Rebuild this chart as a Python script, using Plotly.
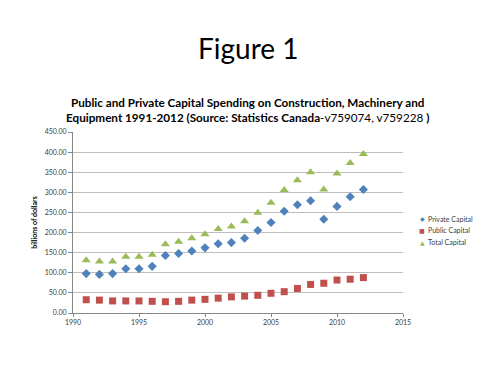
import plotly.graph_objects as go

years = list(range(1991, 2013))
private_capital = [98, 96, 98, 110, 110, 116, 143, 148, 154, 162, 172, 175, 186, 205,
                   225, 253, 269, 279, 233, 265, 289, 307]
public_capital = [33, 32, 30, 30, 30, 29, 28, 29, 32, 34, 37, 40, 42, 44,
                  49, 53, 61, 71, 74, 82, 84, 88]
total_capital = [131, 128, 128, 140, 140, 145, 171, 177, 186, 196, 209, 215, 228, 249,
                 274, 306, 330, 350, 307, 347, 373, 395]

series_names = ["Private Capital", "Public Capital", "Total Capital"]
series_colors = ["#4F81BD", "#C0504D", "#9BBB59"]
series_symbols = ["diamond", "square", "triangle-up"]
legend_glyphs = ["◆", "■", "▲"]

FONT = "Lato"

fig = go.Figure()
for name, vals, col, sym in zip(series_names, [private_capital, public_capital, total_capital],
                                series_colors, series_symbols):
    fig.add_trace(go.Scatter(x=years, y=vals, mode="markers", name=name, showlegend=False,
                             marker=dict(symbol=sym, size=8 if sym == "triangle-up" else 7,
                                         color=col)))

annotations = [
    dict(text="Figure 1", xref="paper", yref="paper", x=0.53, y=1.462,
         xanchor="center", yanchor="middle", showarrow=False,
         font=dict(family=FONT, size=28, color="#000000")),
    dict(text="<b>Public and Private Capital Spending on Construction, Machinery and</b><br>"
              "<b>Equipment 1991-2012 (Source: Statistics Canada</b>-v759074, v759228 <b>)</b>",
         xref="paper", yref="paper", x=0.53, y=1.125,
         xanchor="center", yanchor="middle", showarrow=False, align="center",
         font=dict(family=FONT, size=11.7, color="#000000")),
]
# legend built as text
legend_y0 = (313 - 218.7) / 181
for i, (name, col, g) in enumerate(zip(series_names, series_colors, legend_glyphs)):
    y = legend_y0 - i * 11.7 / 181
    annotations.append(dict(text=g, xref="paper",
                            yref="paper", x=(422 - 73) / 330, y=y, xanchor="center",
                            yanchor="middle", showarrow=False,
                            font=dict(family="DejaVu Sans", size=6, color=col)))
    annotations.append(dict(text=name, xref="paper", yref="paper", x=(426 - 73) / 330, y=y,
                            xanchor="left", yanchor="middle", showarrow=False,
                            font=dict(family=FONT, size=7, color="#404040")))

fig.update_layout(
    width=492, height=367,
    margin=dict(l=65, r=97, t=124, b=62),
    paper_bgcolor="white", plot_bgcolor="white",
    font=dict(family=FONT, size=7, color="#404040"),
    showlegend=False,
    xaxis=dict(range=[1990, 2015], tickvals=[1990, 1995, 2000, 2005, 2010, 2015],
               showgrid=False, showline=True, linecolor="#888888", linewidth=1,
               ticks="outside", ticklen=3, tickcolor="#888888", zeroline=False,
               automargin=False, tickfont=dict(size=7, color="#404040")),
    yaxis=dict(range=[0, 450], dtick=50, tickformat=".2f",
               showgrid=True, gridcolor="#BEBEBE", gridwidth=1,
               showline=True, linecolor="#888888", linewidth=1,
               ticks="outside", ticklen=4, tickcolor="#888888", zeroline=False,
               automargin=False, tickfont=dict(size=7, color="#404040"),
               title=dict(text="<b>billions of dollars</b>", font=dict(size=7, color="#000000"),
                          standoff=6)),
    annotations=annotations,
)

fig.write_html("out.html")
